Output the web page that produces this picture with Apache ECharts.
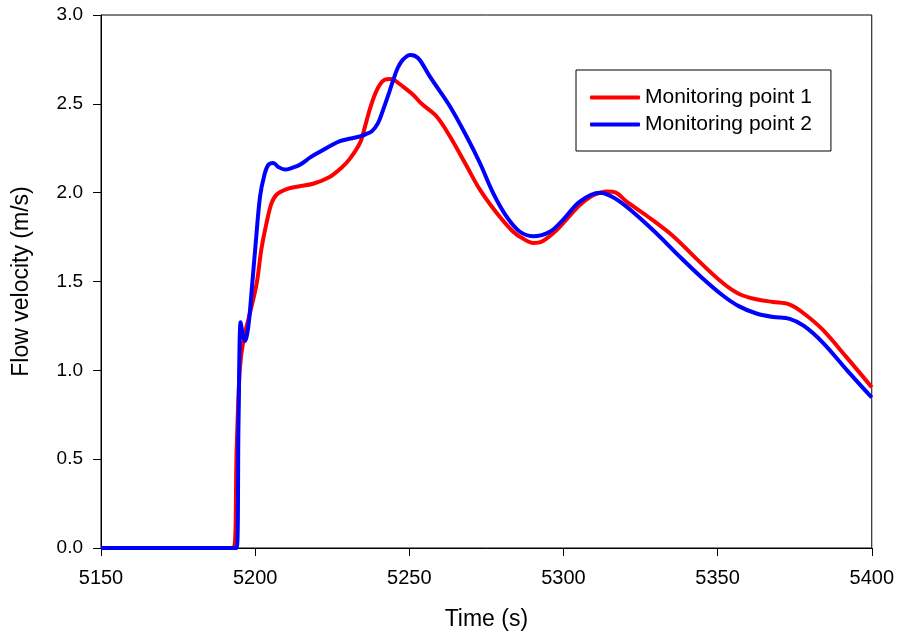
<!DOCTYPE html>
<html>
<head>
<meta charset="utf-8">
<script src="https://cdn.jsdelivr.net/npm/echarts@6/dist/echarts.min.js"></script>
<style>html,body{margin:0;padding:0;background:#fff;}#chart{width:897px;height:636px;}</style>
</head>
<body>
<div id="chart"></div>
<script>
const seriesNames = ['Monitoring point 1', 'Monitoring point 2'];
const xTicks = [5150, 5200, 5250, 5300, 5350, 5400];
const yTicks = [0, 0.5, 1.0, 1.5, 2.0, 2.5, 3.0];

const t1 = [5150, 5193.0, 5194.0, 5195.0, 5196.2, 5198, 5200.5, 5202, 5203.7, 5205.3, 5207, 5210.2, 5214, 5218.8, 5224.3, 5228, 5230.7, 5234, 5235.6, 5237.2, 5239, 5240.5, 5242, 5243.7, 5245, 5247, 5251.3, 5254, 5258.8, 5263.2, 5268.6, 5272.9, 5278.3, 5283.7, 5287, 5290.2, 5293, 5297.8, 5301.5, 5305.3, 5309, 5312, 5314, 5317, 5320.5, 5327, 5335.6, 5343, 5351.8, 5357, 5362.6, 5368, 5373.4, 5378, 5384, 5392, 5400];
const v1 = [0, 0, 0.55, 1.0, 1.17, 1.30, 1.49, 1.68, 1.83, 1.94, 1.99, 2.02, 2.035, 2.05, 2.09, 2.14, 2.19, 2.28, 2.37, 2.47, 2.56, 2.61, 2.635, 2.64, 2.635, 2.61, 2.55, 2.50, 2.43, 2.316, 2.15, 2.017, 1.887, 1.78, 1.74, 1.717, 1.725, 1.79, 1.86, 1.93, 1.98, 2.0, 2.007, 2.0, 1.95, 1.87, 1.755, 1.63, 1.49, 1.43, 1.40, 1.385, 1.37, 1.32, 1.23, 1.07, 0.905];

const t2 = [5150, 5194.0, 5194.6, 5195.3, 5196.0, 5196.7, 5197.8, 5198.9, 5200.2, 5201.6, 5203, 5204.3, 5205.9, 5207.5, 5209.7, 5212, 5214.5, 5218, 5221, 5224, 5227.5, 5231, 5234, 5236, 5237.8, 5239.8, 5241.5, 5243.2, 5244.8, 5246.2, 5247.5, 5249, 5250.2, 5251.8, 5253.4, 5256.7, 5263.2, 5268.6, 5272.9, 5277.2, 5281.5, 5285.9, 5290.2, 5295.6, 5300, 5305.3, 5311.8, 5318.3, 5329, 5337.7, 5345, 5351.8, 5357, 5362.6, 5368, 5373.4, 5378, 5384.2, 5392, 5400];
const v2 = [0, 0, 0.7, 1.27, 1.20, 1.165, 1.25, 1.455, 1.72, 1.98, 2.10, 2.157, 2.167, 2.145, 2.13, 2.14, 2.157, 2.20, 2.23, 2.26, 2.29, 2.305, 2.317, 2.33, 2.345, 2.39, 2.466, 2.55, 2.635, 2.70, 2.74, 2.765, 2.775, 2.77, 2.747, 2.653, 2.485, 2.316, 2.167, 1.998, 1.867, 1.78, 1.755, 1.78, 1.85, 1.95, 2.0, 1.95, 1.79, 1.64, 1.52, 1.42, 1.36, 1.32, 1.30, 1.29, 1.25, 1.155, 1.0, 0.847];

const pairs = (t, v) => t.map((x, i) => [x, v[i]]);
const FONT = 'Liberation Sans, Arial, sans-serif';

const chart = echarts.init(document.getElementById('chart'), null, {renderer: 'canvas'});
chart.setOption({
  animation: false,
  backgroundColor: '#fff',
  grid: {left: 101, right: 25, top: 15, bottom: 87, show: true, borderColor: '#000', borderWidth: 1, backgroundColor: 'transparent'},
  legend: {
    orient: 'vertical', left: 576, top: 70,
    padding: [17, 19, 16, 14], itemGap: 6,
    borderColor: '#000', borderWidth: 1,
    itemWidth: 50, itemHeight: 4, icon: 'roundRect',
    textStyle: {fontFamily: FONT, fontSize: 21, color: '#000', lineHeight: 20},
    data: seriesNames
  },
  xAxis: {
    type: 'value', min: xTicks[0], max: xTicks[xTicks.length - 1], interval: 50,
    name: 'Time (s)', nameLocation: 'middle', nameGap: 60,
    nameTextStyle: {fontFamily: FONT, fontSize: 23, color: '#000'},
    axisLine: {show: true, onZero: false, lineStyle: {color: '#000', width: 1}},
    axisTick: {show: true, inside: false, length: 8, lineStyle: {color: '#000'}},
    axisLabel: {fontFamily: FONT, fontSize: 20, color: '#000', margin: 20, formatter: v => String(v)},
    splitLine: {show: false}
  },
  yAxis: {
    type: 'value', min: yTicks[0], max: yTicks[yTicks.length - 1], interval: 0.5,
    name: 'Flow velocity (m/s)', nameLocation: 'middle', nameGap: 68,
    nameTextStyle: {fontFamily: FONT, fontSize: 23, color: '#000'},
    axisLine: {show: true, lineStyle: {color: '#000', width: 1}},
    axisTick: {show: true, inside: false, length: 8, lineStyle: {color: '#000'}},
    axisLabel: {fontFamily: FONT, fontSize: 19, color: '#000', margin: 18, formatter: v => v.toFixed(1)},
    splitLine: {show: false}
  },
  series: [
    {name: seriesNames[0], type: 'line', data: pairs(t1, v1), showSymbol: false, smooth: 0.35, clip: false,
     lineStyle: {color: '#ff0000', width: 4}, itemStyle: {color: '#ff0000'}},
    {name: seriesNames[1], type: 'line', data: pairs(t2, v2), showSymbol: false, smooth: 0.35, clip: false,
     lineStyle: {color: '#0000ff', width: 4}, itemStyle: {color: '#0000ff'}}
  ]
});
</script>
</body>
</html>
